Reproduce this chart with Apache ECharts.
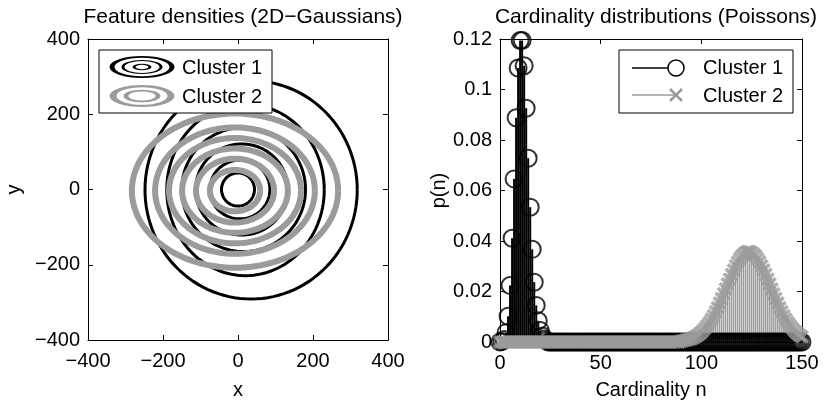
<!DOCTYPE html>
<html style="height: 100%">
<head>
<meta charset="utf-8">
<title>Feature densities and cardinality distributions</title>
<script src="https://cdn.jsdelivr.net/npm/echarts@6/dist/echarts.min.js"></script>
</head>
<body style="height: 100%; margin: 0; background: #fff">
<div id="container" style="width: 826px; height: 405px"></div>
<script type="text/javascript">

// ---- left panel: contour rings, [cx, cy, rx, ry] in data units
const cluster1Rings = [
    [0, 0, 44, 44],
    [5, 0, 80, 78],
    [10, 0, 123, 121],
    [15, 0, 165, 165],
    [20, -1, 210, 228],
    [35, -1, 283, 290]
];
const cluster2Rings = [
    [-8, -3, 67, 55],
    [-8, -3, 104, 85],
    [-8, -3, 141, 112],
    [-8, -3, 176, 140],
    [-8, -3, 213, 168],
    [-8, -3, 275, 205]
];

const nMax = 150;
const cluster1From = 0;
const cluster1Read = [0.0000, 0.0002, 0.0010, 0.0037, 0.0102, 0.0224, 0.0411, 0.0646,
    0.0888, 0.1085, 0.1194, 0.1194, 0.1094, 0.0926, 0.0728, 0.0534, 0.0367, 0.0237,
    0.0145, 0.0084, 0.0046, 0.0024, 0.0012, 0.0006];
const cluster2From = 90;
const cluster2Read = [0.0004, 0.0005, 0.0007, 0.0009, 0.0011, 0.0013, 0.0017, 0.0021,
    0.0026, 0.0032, 0.0039, 0.0047, 0.0056, 0.0066, 0.0077, 0.0090, 0.0104, 0.0120,
    0.0136, 0.0154, 0.0172, 0.0191, 0.0210, 0.0230, 0.0249, 0.0267, 0.0285, 0.0302,
    0.0317, 0.0330, 0.0341, 0.0349, 0.0355, 0.0358, 0.0358, 0.0355, 0.0349, 0.0341,
    0.0330, 0.0317, 0.0302, 0.0285, 0.0267, 0.0249, 0.0230, 0.0210, 0.0191, 0.0172,
    0.0154, 0.0136, 0.0120, 0.0104, 0.0090, 0.0077, 0.0066, 0.0056, 0.0047, 0.0039,
    0.0032, 0.0026, 0.0021];

const FONT = '"Liberation Sans", Arial, Helvetica, sans-serif';
const GRAY = '#9b9b9b';

let counts = [];
for (let n = 0; n <= nMax; n++) counts.push(n);
let pmf1 = counts.map(n => [n, cluster1Read[n - cluster1From] || 0]);
let pmf2 = counts.map(n => [n, cluster2Read[n - cluster2From] || 0]);

const minus = v => String(v).replace('-', '\u2212');

// ellipse drawn through the axis scales
function ringItem(color, width) {
    return function (params, api) {
        let cx = api.value(0), cy = api.value(1), rx = api.value(2), ry = api.value(3);
        let pts = [];
        for (let k = 0; k <= 120; k++) {
            let t = k / 120 * 2 * Math.PI;
            pts.push(api.coord([cx + rx * Math.cos(t), cy + ry * Math.sin(t)]));
        }
        return { type: 'polyline', shape: { points: pts }, style: { stroke: color, lineWidth: width, fill: null } };
    };
}
// stem from baseline to value
function stemItem(color, width) {
    return function (params, api) {
        let a = api.coord([api.value(0), 0]);
        let b = api.coord([api.value(0), api.value(1)]);
        return { type: 'line', shape: { x1: a[0], y1: a[1], x2: b[0], y2: b[1] },
                 style: { stroke: color, lineWidth: width } };
    };
}

const tickLabel = { color: '#000', fontFamily: FONT, fontSize: 20 };
function valueAxis(extra) {
    return Object.assign({
        type: 'value',
        axisLine: { onZero: false, lineStyle: { color: '#000', width: 1 } },
        axisTick: { inside: true, length: 5, lineStyle: { color: '#000' } },
        splitLine: { show: false },
        nameTextStyle: { color: '#000', fontFamily: FONT, fontSize: 20 }
    }, extra);
}
const noLabel = { show: false };

const xMark = 'path://M0,1.8L1.8,0L5,3.2L8.2,0L10,1.8L6.8,5L10,8.2L8.2,10L5,6.8L1.8,10L0,8.2L3.2,5Z';

let chart = echarts.init(document.getElementById('container'), null, { renderer: 'canvas' });
chart.setOption({
    animation: false,
    backgroundColor: '#fff',
    title: [
        { text: 'Feature densities (2D\u2212Gaussians)', left: 238, top: 2, textAlign: 'center',
          textStyle: { fontFamily: FONT, fontSize: 21, fontWeight: 'normal', color: '#000' } },
        { text: 'Cardinality distributions (Poissons)', left: 651, top: 2, textAlign: 'center',
          textStyle: { fontFamily: FONT, fontSize: 21, fontWeight: 'normal', color: '#000' } }
    ],
    grid: [
        { left: 88, top: 39, width: 300, height: 305 },
        { left: 500, top: 39, width: 302, height: 305 }
    ],
    xAxis: [
        valueAxis({ gridIndex: 0, min: -400, max: 400, interval: 200, name: 'x',
            nameLocation: 'middle', nameGap: 40,
            axisLabel: Object.assign({ margin: 11, formatter: minus }, tickLabel) }),
        valueAxis({ gridIndex: 0, position: 'top', min: -400, max: 400, interval: 200, axisLabel: noLabel }),
        valueAxis({ gridIndex: 1, min: 0, max: nMax, interval: 50, name: 'Cardinality n',
            nameLocation: 'middle', nameGap: 38,
            axisLabel: Object.assign({ margin: 11 }, tickLabel) }),
        valueAxis({ gridIndex: 1, position: 'top', min: 0, max: nMax, interval: 50, axisLabel: noLabel })
    ],
    yAxis: [
        valueAxis({ gridIndex: 0, min: -400, max: 400, interval: 200, name: 'y',
            nameLocation: 'middle', nameGap: 64,
            axisLabel: Object.assign({ margin: 8, formatter: minus }, tickLabel) }),
        valueAxis({ gridIndex: 0, position: 'right', min: -400, max: 400, interval: 200, axisLabel: noLabel }),
        valueAxis({ gridIndex: 1, min: 0, max: 0.12, interval: 0.02, name: 'p(n)',
            nameLocation: 'middle', nameGap: 36,
            axisLabel: Object.assign({ margin: 8, formatter: v => String(+v.toFixed(2)) }, tickLabel) }),
        valueAxis({ gridIndex: 1, position: 'right', min: 0, max: 0.12, interval: 0.02, axisLabel: noLabel })
    ],
    series: [
        { name: 'Cluster 1', type: 'custom', xAxisIndex: 0, yAxisIndex: 0,
          renderItem: ringItem('#000', 3), data: cluster1Rings },
        { name: 'Cluster 2', type: 'custom', xAxisIndex: 0, yAxisIndex: 0,
          renderItem: ringItem(GRAY, 6), data: cluster2Rings },

        { type: 'custom', xAxisIndex: 2, yAxisIndex: 2, renderItem: stemItem('#000', 2), data: pmf1 },
        { type: 'scatter', xAxisIndex: 2, yAxisIndex: 2, data: pmf1, clip: false,
          symbol: 'circle', symbolSize: 17,
          itemStyle: { color: 'rgba(0,0,0,0)', borderColor: '#000', borderWidth: 2 } },
        { type: 'custom', xAxisIndex: 2, yAxisIndex: 2, renderItem: stemItem(GRAY, 1.5), data: pmf2 },
        { type: 'scatter', xAxisIndex: 2, yAxisIndex: 2, data: pmf2, clip: false,
          symbol: xMark, symbolSize: 14, itemStyle: { color: GRAY } }
    ],
    graphic: [
        // left legend
        { type: 'rect', shape: { x: 99, y: 50, width: 173, height: 63 }, z: 100,
          style: { fill: '#fff', stroke: '#000', lineWidth: 1 } },
        { type: 'circle', x: 142, y: 67, scaleY: 0.34, z: 101, shape: { cx: 0, cy: 0, r: 30 },
          style: { fill: null, stroke: '#000', lineWidth: 5, strokeNoScale: true } },
        { type: 'circle', x: 142, y: 67, scaleY: 0.34, z: 101, shape: { cx: 0, cy: 0, r: 19 },
          style: { fill: null, stroke: '#000', lineWidth: 3, strokeNoScale: true } },
        { type: 'circle', x: 142, y: 67, scaleY: 0.34, z: 101, shape: { cx: 0, cy: 0, r: 8 },
          style: { fill: null, stroke: '#000', lineWidth: 3, strokeNoScale: true } },
        { type: 'circle', x: 142, y: 96, scaleY: 0.34, z: 101, shape: { cx: 0, cy: 0, r: 29 },
          style: { fill: null, stroke: GRAY, lineWidth: 7, strokeNoScale: true } },
        { type: 'circle', x: 142, y: 96, scaleY: 0.34, z: 101, shape: { cx: 0, cy: 0, r: 16 },
          style: { fill: null, stroke: GRAY, lineWidth: 5, strokeNoScale: true } },
        { type: 'text', x: 182, y: 68, z: 101, style: { text: 'Cluster 1', fill: '#000', font: '20px ' + FONT, verticalAlign: 'middle' } },
        { type: 'text', x: 182, y: 97, z: 101, style: { text: 'Cluster 2', fill: '#000', font: '20px ' + FONT, verticalAlign: 'middle' } },

        // right legend
        { type: 'rect', shape: { x: 619, y: 50, width: 174, height: 63 }, z: 100,
          style: { fill: '#fff', stroke: '#000', lineWidth: 1 } },
        { type: 'line', z: 101, shape: { x1: 632, y1: 68, x2: 676, y2: 68 }, style: { stroke: '#000', lineWidth: 1.5 } },
        { type: 'circle', z: 101, shape: { cx: 676, cy: 68, r: 8 }, style: { fill: '#fff', stroke: '#000', lineWidth: 1.5 } },
        { type: 'line', z: 101, shape: { x1: 632, y1: 95, x2: 676, y2: 95 }, style: { stroke: GRAY, lineWidth: 1.5 } },
        { type: 'line', z: 101, shape: { x1: 670, y1: 89, x2: 682, y2: 101 }, style: { stroke: GRAY, lineWidth: 2.5 } },
        { type: 'line', z: 101, shape: { x1: 682, y1: 89, x2: 670, y2: 101 }, style: { stroke: GRAY, lineWidth: 2.5 } },
        { type: 'text', x: 703, y: 68, z: 101, style: { text: 'Cluster 1', fill: '#000', font: '20px ' + FONT, verticalAlign: 'middle' } },
        { type: 'text', x: 703, y: 96, z: 101, style: { text: 'Cluster 2', fill: '#000', font: '20px ' + FONT, verticalAlign: 'middle' } }
    ]
});
</script>
</body>
</html>
